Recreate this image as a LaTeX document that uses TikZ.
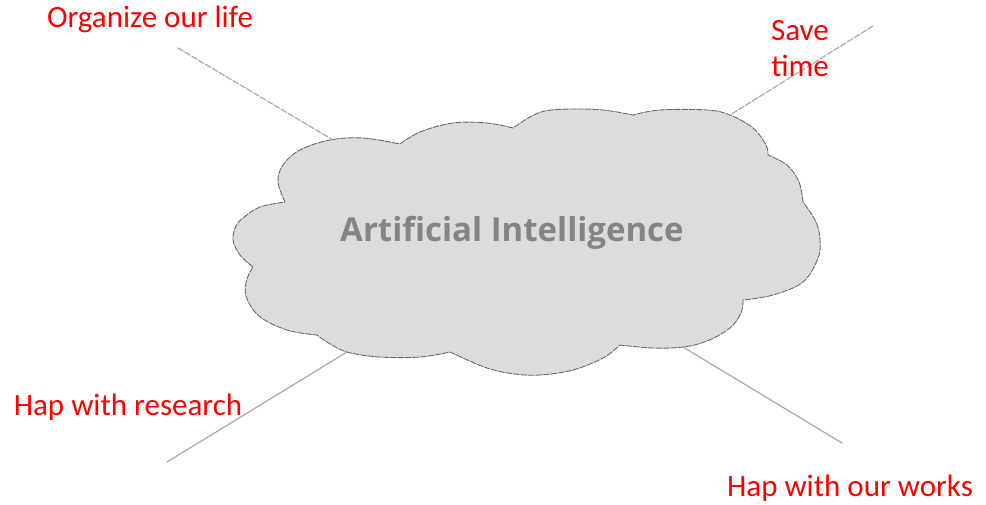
\documentclass[tikz,border=0pt]{standalone}
\usepackage{fontspec}
\setmainfont{Carlito}
\newfontfamily\cloudfont{Open Sans}
\definecolor{cloudfill}{RGB}{220,220,220}
\definecolor{cloudline}{RGB}{105,105,105}
\definecolor{cloudtext}{RGB}{132,132,132}
\definecolor{spoke}{RGB}{170,170,170}
\tikzset{
	idea/.style={text=red,font=\fontsize{31}{36}\selectfont,align=center,inner sep=0pt},
	spokeline/.style={draw=spoke,line width=1.2pt},
	puff/.style={smooth,tension=0.6}
}
\begin{document}
\begin{tikzpicture}[x=1pt,y=-1pt,line join=round,line cap=round]
			\def \xmax{986};
			\def \ymax{504};
			\useasboundingbox (0,0) rectangle (\xmax,\ymax);
			\filldraw[fill=cloudfill,draw=cloudline,line width=0.9pt,dash pattern=on 6pt off 1.5pt]
				plot[puff] coordinates {(253,267) (240,255) (233,240) (236,226) (243,218) (260,207) (285,202)}
				-- plot[puff] coordinates {(285,202) (278,182) (283,165) (300,150) (330,140) (363,138) (400,144)}
				-- plot[puff] coordinates {(400,144) (420,132) (453,123) (487,123) (513,128)}
				-- plot[puff] coordinates {(513,128) (530,117) (545,111) (570,109) (603,110) (633,115)}
				-- plot[puff] coordinates {(633,115) (660,110) (707,110) (730,115) (753,128) (766,145) (768,155)}
				-- plot[puff] coordinates {(768,155) (787,165) (799,182) (803,202)}
				-- plot[puff] coordinates {(803,202) (816,222) (820,240) (818,258) (803,282) (773,295) (743,300)}
				-- plot[puff] coordinates {(743,300) (741,313) (730,328) (707,341) (683,347) (653,348) (620,345)}
				-- plot[puff] coordinates {(620,345) (603,358) (573,370) (540,375) (515,374) (487,368) (450,352)}
				-- plot[puff] coordinates {(450,352) (420,357) (380,357) (347,352) (327,342) (317,335)}
				-- plot[puff] coordinates {(317,335) (287,330) (259,316) (246,296) (247,279) (253,267)}
				-- cycle;
			\node[font=\cloudfont\bfseries\fontsize{33}{38}\selectfont,text=cloudtext] (ai) at (512,233) {Artificial Intelligence};
			\coordinate (e1) at (178,48);
			\coordinate (e2) at (873,26);
			\coordinate (e3) at (167,462);
			\coordinate (e4) at (842,443);
			\coordinate (t1) at (333,140);
			\coordinate (t2) at (730,115);
			\coordinate (t3) at (347,352);
			\coordinate (t4) at (683,347);
			\draw[spokeline,dash pattern=on 6pt off 2pt] (e1) -- (t1);
			\draw[spokeline,dash pattern=on 6pt off 2pt] (e2) -- (t2);
			\draw[spokeline] (e3) -- (t3);
			\draw[spokeline] (e4) -- (t4);
			\node[idea] (life) at (150,19) {Organize our life};
			\node[idea] (save) at (800,49) {Save\\time};
			\node[idea] (research) at (128,407) {Hap with research};
			\node[idea] (works) at (850,488) {Hap with our works};
			\end{tikzpicture}
\end{document}
